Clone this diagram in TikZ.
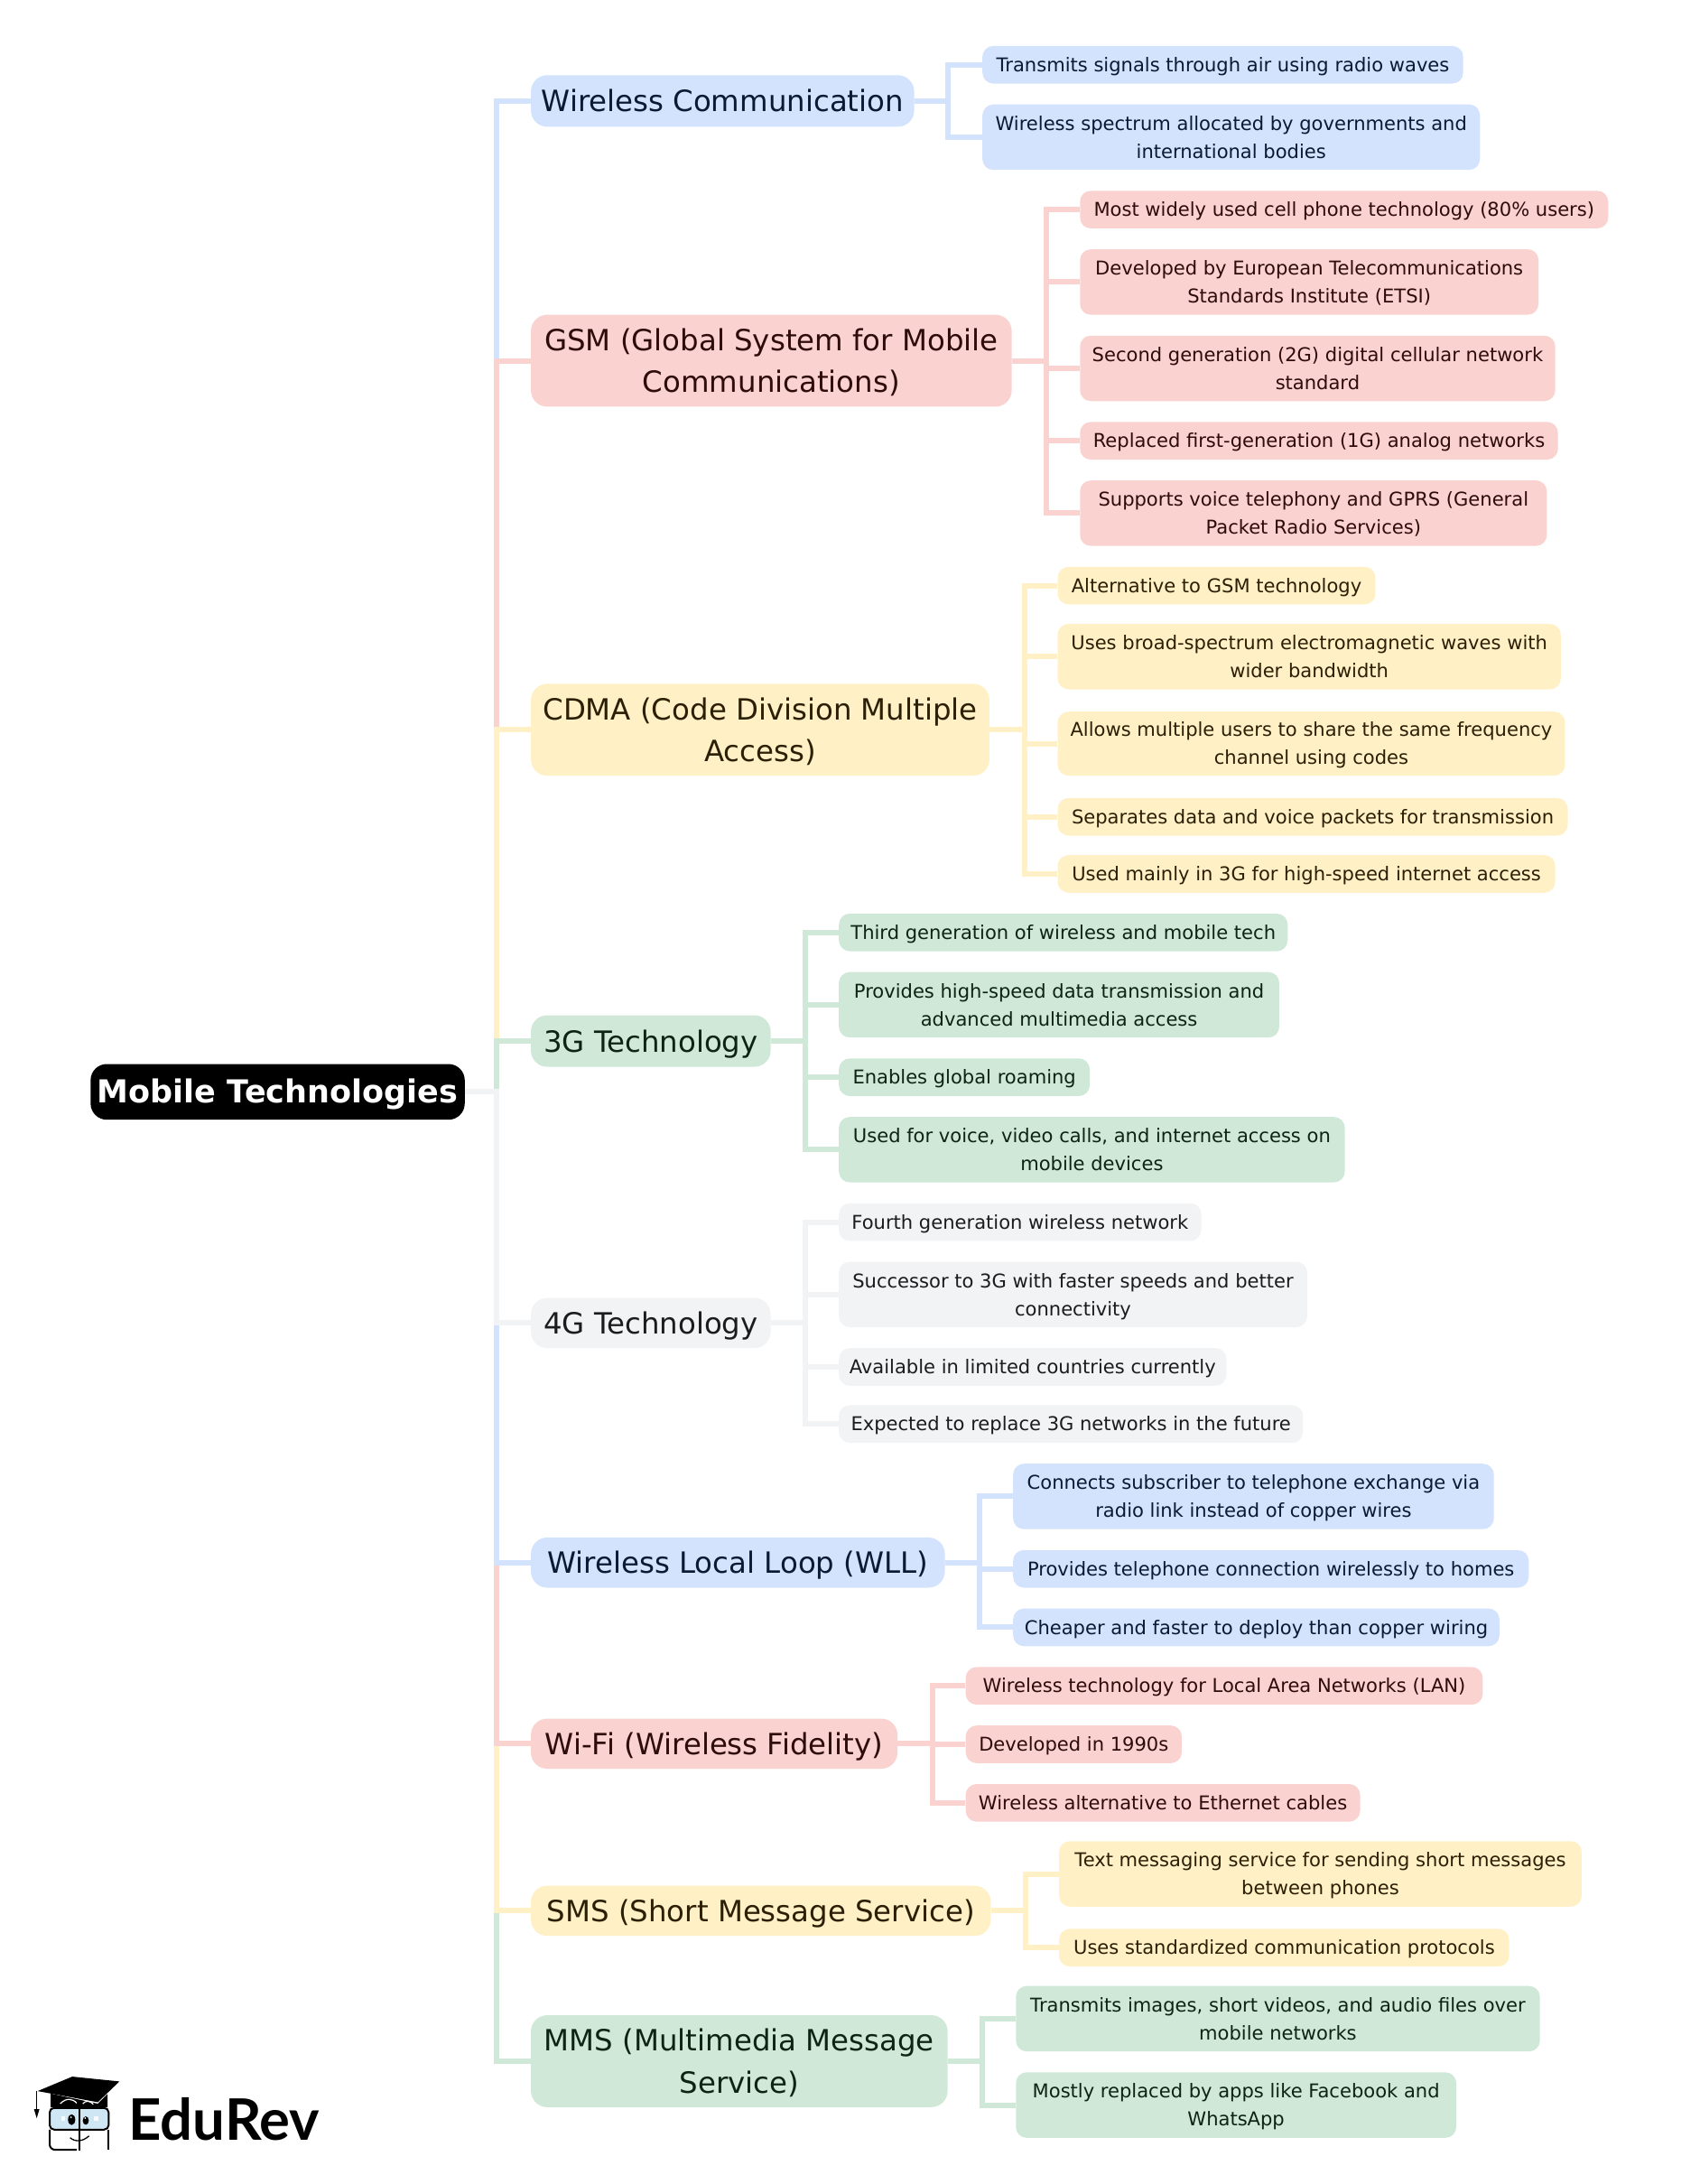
\documentclass[tikz,border=0pt]{standalone}
\usepackage{fontspec}
\setmainfont{DejaVu Sans}
\newfontfamily\logofont{Lato}
\definecolor{cB}{HTML}{D3E3FD}\definecolor{tB}{HTML}{0A1A33}
\definecolor{cP}{HTML}{FAD2CF}\definecolor{tP}{HTML}{2D0C0A}
\definecolor{cY}{HTML}{FFF0C5}\definecolor{tY}{HTML}{2B2006}
\definecolor{cG}{HTML}{CFE8D8}\definecolor{tG}{HTML}{0D2415}
\definecolor{cN}{HTML}{F1F3F4}\definecolor{tN}{HTML}{1A1C1E}
\definecolor{glass}{HTML}{CFE6F5}
\tikzset{
 box/.style={inner sep=0pt,font=\fontsize{21.05}{31}\selectfont\def\txshift{3pt},rounded corners=12pt},
 topic/.style={box,font=\fontsize{32.4}{46.5}\selectfont\def\txshift{5.5pt},rounded corners=18pt},
 rootbox/.style={topic,fill=black,text=white,font=\fontsize{35}{46.5}\selectfont\bfseries\def\txshift{5.5pt}},
 link/.style={line width=6pt,line join=miter,line cap=butt},
 B/.style={fill=cB,text=tB},P/.style={fill=cP,text=tP},Y/.style={fill=cY,text=tY},
 G/.style={fill=cG,text=tG},N/.style={fill=cN,text=tN}
}
\newcommand\tx[1]{\setbox\strutbox\hbox{\vrule height .7\baselineskip depth .3\baselineskip width 0pt}\raisebox{0pt}[\dimexpr\height+\txshift\relax][\depth]{\begin{tabular}{@{}c@{}}#1\end{tabular}}}
% #1 style, #2 name, #3 left, #4 right, #5 top, #6 bottom, #7 text
\newcommand\bx[7]{\node[#1,minimum width={((#4)-(#3))*1.5435pt},minimum height={((#6)-(#5))*1.5425pt}] (#2) at ({((#3)+(#4))/2},{((#5)+(#6))/2}) {\tx{#7}};}
% #1 colour, #2 parent, #3 bus, #4 child
\newcommand\cn[4]{\draw[link,#1] (#2.east) -- (#2.east -| #3) |- (#4.west);}
\begin{document}
\begin{tikzpicture}[x=1.5435pt,y=-1.5425pt]
\useasboundingbox (0,0) rectangle (1219.3,1568.2);
\fill[white] (0,0) rectangle (1219.3,1568.2);
% root and topics
\bx{rootbox}{root}{65}{333.5}{764}{804}{Mobile Technologies}
\bx{topic,B}{wc}{381}{656}{54}{91}{Wireless Communication}
\bx{topic,P}{gsm}{381}{726}{226}{292}{GSM (Global System for Mobile\\Communications)}
\bx{topic,Y}{cdma}{381}{710}{491}{557}{CDMA (Code Division Multiple\\Access)}
\bx{topic,G}{tg}{381}{553}{729}{766}{3G Technology}
\bx{topic,N}{fg}{381}{553}{932}{968}{4G Technology}
\bx{topic,B}{wll}{381}{678}{1104}{1140}{Wireless Local Loop (WLL)}
\bx{topic,P}{wifi}{381}{644}{1234}{1270}{Wi-Fi (Wireless Fidelity)}
\bx{topic,Y}{sms}{381}{711}{1354}{1390}{SMS (Short Message Service)}
\bx{topic,G}{mms}{381}{680}{1447}{1513}{MMS (Multimedia Message\\Service)}
% leaves
\bx{box,B}{wc1}{705}{1050}{33}{60}{Transmits signals through air using radio waves}
\bx{box,B}{wc2}{705}{1062}{75}{122}{Wireless spectrum allocated by governments and\\international bodies}
\bx{box,P}{gsm1}{775}{1154}{137}{164}{Most widely used cell phone technology (80\% users)}
\bx{box,P}{gsm2}{775}{1104}{179}{226}{Developed by European Telecommunications\\Standards Institute (ETSI)}
\bx{box,P}{gsm3}{775}{1116}{241}{288}{Second generation (2G) digital cellular network\\standard}
\bx{box,P}{gsm4}{775}{1118}{303}{330}{Replaced first-generation (1G) analog networks}
\bx{box,P}{gsm5}{775}{1110}{345}{392}{Supports voice telephony and GPRS (General\\Packet Radio Services)}
\bx{box,Y}{cd1}{759}{987}{407}{434}{Alternative to GSM technology}
\bx{box,Y}{cd2}{759}{1120}{448}{495}{Uses broad-spectrum electromagnetic waves with\\wider bandwidth}
\bx{box,Y}{cd3}{759}{1123}{511}{557}{Allows multiple users to share the same frequency\\channel using codes}
\bx{box,Y}{cd4}{759}{1125}{573}{600}{Separates data and voice packets for transmission}
\bx{box,Y}{cd5}{759}{1116}{614}{641}{Used mainly in 3G for high-speed internet access}
\bx{box,G}{tg1}{602}{924}{656}{683}{Third generation of wireless and mobile tech}
\bx{box,G}{tg2}{602}{918}{698}{745}{Provides high-speed data transmission and\\advanced multimedia access}
\bx{box,G}{tg3}{602}{782}{760}{787}{Enables global roaming}
\bx{box,G}{tg4}{602}{965}{802}{849}{Used for voice, video calls, and internet access on\\mobile devices}
\bx{box,N}{fg1}{602}{862}{864}{891}{Fourth generation wireless network}
\bx{box,N}{fg2}{602}{938}{906}{953}{Successor to 3G with faster speeds and better\\connectivity}
\bx{box,N}{fg3}{602}{880}{968}{995}{Available in limited countries currently}
\bx{box,N}{fg4}{602}{935}{1009}{1036}{Expected to replace 3G networks in the future}
\bx{box,B}{wl1}{727}{1072}{1051}{1098}{Connects subscriber to telephone exchange via\\radio link instead of copper wires}
\bx{box,B}{wl2}{727}{1097}{1113}{1140}{Provides telephone connection wirelessly to homes}
\bx{box,B}{wl3}{727}{1076}{1155}{1182}{Cheaper and faster to deploy than copper wiring}
\bx{box,P}{wf1}{693}{1064}{1197}{1224}{Wireless technology for Local Area Networks (LAN)}
\bx{box,P}{wf2}{693}{848}{1239}{1266}{Developed in 1990s}
\bx{box,P}{wf3}{693}{976}{1281}{1308}{Wireless alternative to Ethernet cables}
\bx{box,Y}{sm1}{760}{1135}{1322}{1369}{Text messaging service for sending short messages\\between phones}
\bx{box,Y}{sm2}{760}{1083}{1385}{1412}{Uses standardized communication protocols}
\bx{box,G}{mm1}{729}{1105}{1426}{1473}{Transmits images, short videos, and audio files over\\mobile networks}
\bx{box,G}{mm2}{729}{1045}{1488}{1535}{Mostly replaced by apps like Facebook and\\WhatsApp}
% bus positions
\coordinate (b0) at (356.5,0);
\coordinate (bwc) at (680,0);
\coordinate (bgsm) at (751,0);
\coordinate (bcd) at (735,0);
\coordinate (btg) at (578,0);
\coordinate (bwl) at (703,0);
\coordinate (bwf) at (669,0);
\coordinate (bsm) at (736,0);
\coordinate (bmm) at (705,0);
% root links: outermost first, so the nearer ones lie on top
\cn{cB}{root}{b0}{wc}
\cn{cP}{root}{b0}{gsm}
\cn{cY}{root}{b0}{cdma}
\cn{cG}{root}{b0}{tg}
\cn{cG}{root}{b0}{mms}
\cn{cY}{root}{b0}{sms}
\cn{cP}{root}{b0}{wifi}
\cn{cB}{root}{b0}{wll}
\cn{cN}{root}{b0}{fg}
% child links
\cn{cB}{wc}{bwc}{wc1}\cn{cB}{wc}{bwc}{wc2}
\cn{cP}{gsm}{bgsm}{gsm1}\cn{cP}{gsm}{bgsm}{gsm2}\cn{cP}{gsm}{bgsm}{gsm3}\cn{cP}{gsm}{bgsm}{gsm4}\cn{cP}{gsm}{bgsm}{gsm5}
\cn{cY}{cdma}{bcd}{cd1}\cn{cY}{cdma}{bcd}{cd2}\cn{cY}{cdma}{bcd}{cd3}\cn{cY}{cdma}{bcd}{cd4}\cn{cY}{cdma}{bcd}{cd5}
\cn{cG}{tg}{btg}{tg1}\cn{cG}{tg}{btg}{tg2}\cn{cG}{tg}{btg}{tg3}\cn{cG}{tg}{btg}{tg4}
\cn{cN}{fg}{btg}{fg1}\cn{cN}{fg}{btg}{fg2}\cn{cN}{fg}{btg}{fg3}\cn{cN}{fg}{btg}{fg4}
\cn{cB}{wll}{bwl}{wl1}\cn{cB}{wll}{bwl}{wl2}\cn{cB}{wll}{bwl}{wl3}
\cn{cP}{wifi}{bwf}{wf1}\cn{cP}{wifi}{bwf}{wf2}\cn{cP}{wifi}{bwf}{wf3}
\cn{cY}{sms}{bsm}{sm1}\cn{cY}{sms}{bsm}{sm2}
\cn{cG}{mms}{bmm}{mm1}\cn{cG}{mms}{bmm}{mm2}
% logo
\begin{scope}[x=0.33333pt,y=-0.33333pt,shift={(0pt,-2180pt)}]
\fill[black] (125,408) -- (240,360) -- (397,376) -- (325,445) -- cycle;
\fill[black] (168,416) -- (325,450) -- (357,418) -- (357,462) -- (168,462) -- cycle;
\draw[white,line width=1.2pt] (200,450) .. controls (220,430) and (240,432) .. (255,448);
\draw[white,line width=1.2pt] (275,450) .. controls (285,438) and (300,440) .. (310,452);
\draw[black,line width=1.3pt] (122,408) -- (122,470);
\fill[black] (113,468) -- (131,468) -- (122,498) -- cycle;
\draw[black,line width=2pt,fill=glass,rounded corners=5pt] (165,464) rectangle (361,536);
\draw[black,line width=2pt,rounded corners=6pt] (255,603) -- (165,603) -- (165,536);
\draw[black,line width=2pt,rounded corners=6pt] (361,536) -- (361,603);
\draw[black,line width=2.2pt] (265,462) -- (265,607);
\fill[black] (238,503) ellipse [x radius=12,y radius=18];
\fill[black] (285,506) ellipse [x radius=10,y radius=14];
\fill[white] (236,495) circle [radius=3];\fill[white] (283,498) circle [radius=3];
\fill[white!85!glass] (203,493) rectangle (217,507);
\fill[white!85!glass] (311,493) rectangle (327,507);
\draw[black,line width=1.3pt] (233,563) .. controls (250,578) and (275,576) .. (296,557);
\node[anchor=base west,inner sep=0pt,font=\logofont\bfseries\fontsize{63.4}{63.4}\selectfont,text=black] (logo) at (427,570) {EduRev};
\end{scope}
\end{tikzpicture}
\end{document}
